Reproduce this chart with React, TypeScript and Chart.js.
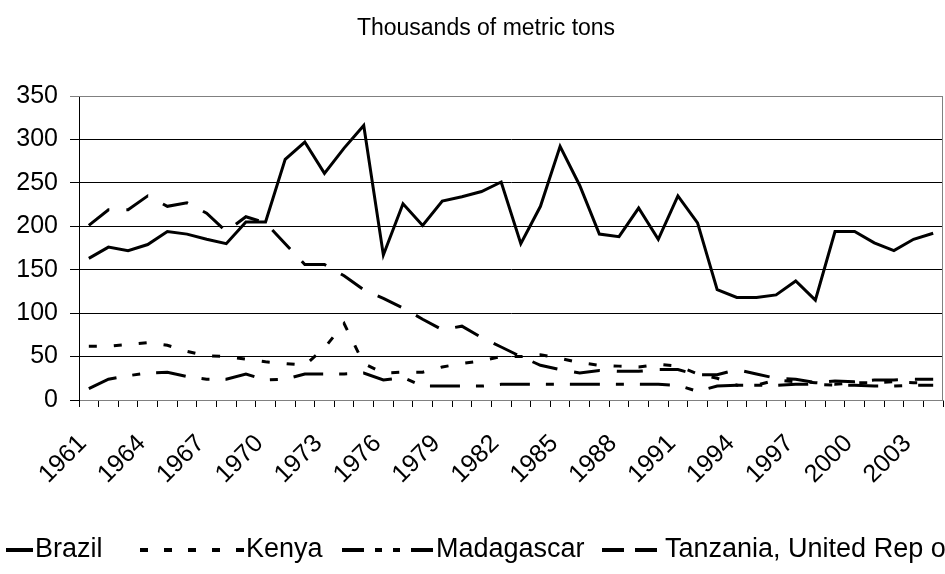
import React, { useEffect, useRef } from "react";
import { Chart, registerables } from "chart.js";

Chart.register(...registerables);

const years: string[] = [
  "1961","1962","1963","1964","1965","1966","1967","1968","1969","1970",
  "1971","1972","1973","1974","1975","1976","1977","1978","1979","1980",
  "1981","1982","1983","1984","1985","1986","1987","1988","1989","1990",
  "1991","1992","1993","1994","1995","1996","1997","1998","1999","2000",
  "2001","2002","2003","2004",
];

const brazil = [163,176,172,179,194,191,185,180,205,205,277,297,261,290,316,167,226,201,229,234,240,251,180,223,292,247,191,188,221,185,235,204,127,118,118,121,137,115,194,194,181,172,185,192];
const kenya = [62,62,64,66,63,56,51,50,47,44,42,40,60,88,42,31,32,32,38,42,45,50,50,52,48,43,40,39,38,41,39,30,25,17,17,23,21,20,18,20,20,21,20,20];
const madagascar = [13,24,28,31,32,27,24,24,30,23,24,30,30,30,31,23,26,16,16,16,16,18,18,18,18,18,18,18,18,18,17,10,16,17,17,17,18,18,17,17,16,16,17,17];
const tanzania = [201,219,219,235,223,227,215,194,211,204,180,156,156,143,127,117,106,93,81,85,72,61,50,40,35,31,34,33,33,35,35,29,29,35,30,25,24,20,22,21,23,23,24,24];

const titleText = "Thousands of metric tons";
const seriesNames = ["Brazil", "Kenya", "Madagascar", "Tanzania, United Rep of"];
const dashes: number[][] = [[], [8, 17], [30, 16, 8, 16], [26, 17]];
const legendDashes: number[][] = [[], [8, 16], [22, 11, 7, 11, 7, 11], [22, 11]];

const FONT = "'Liberation Sans', Arial, sans-serif";

export default function App() {
  const ref = useRef<HTMLCanvasElement | null>(null);

  useEffect(() => {
    const canvas = ref.current;
    if (!canvas) return;
    const seriesData = [brazil, kenya, madagascar, tanzania];

    const titlePlugin = {
      id: "customTitle",
      afterDraw(chart: any) {
        const ctx = chart.ctx;
        ctx.save();
        ctx.fillStyle = "#000";
        ctx.font = `23px ${FONT}`;
        ctx.textAlign = "center";
        ctx.textBaseline = "middle";
        ctx.fillText(titleText, 486, 29);
        ctx.restore();
      },
    };

    const legendPlugin = {
      id: "customLegend",
      afterDraw(chart: any) {
        const ctx = chart.ctx;
        ctx.save();
        ctx.font = `27px ${FONT}`;
        ctx.textBaseline = "middle";
        ctx.textAlign = "left";
        const y = 550;
        const sampleX = [6, 140, 342, 602];
        const sampleW = [27, 104, 92, 55];
        seriesNames.forEach((name, i) => {
          ctx.strokeStyle = "#000";
          ctx.lineWidth = 4;
          ctx.setLineDash(legendDashes[i]);
          ctx.beginPath();
          ctx.moveTo(sampleX[i], y);
          ctx.lineTo(sampleX[i] + sampleW[i], y);
          ctx.stroke();
          ctx.setLineDash([]);
          ctx.fillStyle = "#000";
          ctx.fillText(name, sampleX[i] + sampleW[i] + (i === 3 ? 8 : 2), y);
        });
        ctx.restore();
      },
    };

    const framePlugin = {
      id: "frame",
      beforeDatasetsDraw(chart: any) {
        const { ctx, chartArea } = chart;
        ctx.save();
        ctx.strokeStyle = "#808080";
        ctx.lineWidth = 1;
        ctx.beginPath();
        ctx.moveTo(chartArea.left, chartArea.top + 0.5);
        ctx.lineTo(chartArea.right - 0.5, chartArea.top + 0.5);
        ctx.lineTo(chartArea.right - 0.5, chartArea.bottom);
        ctx.stroke();
        ctx.restore();
      },
    };

    const chart = new Chart(canvas, {
      type: "line",
      data: {
        labels: years,
        datasets: seriesNames.map((name, i) => ({
          label: name,
          data: seriesData[i],
          borderColor: "#000",
          backgroundColor: "#000",
          borderWidth: 3,
          borderDash: dashes[i],
          pointRadius: 0,
          tension: 0,
          fill: false,
        })),
      },
      options: {
        responsive: false,
        animation: false,
        devicePixelRatio: 1,
        layout: { padding: { left: 0, right: 2, top: 96, bottom: 0 } },
        plugins: {
          legend: { display: false },
          title: { display: false },
          tooltip: { enabled: false },
        },
        scales: {
          x: {
            offset: true,
            grid: {
              offset: true,
              drawOnChartArea: false,
              drawTicks: true,
              tickLength: 7,
              color: "#000",
            },
            border: { display: true, color: "#808080", width: 1 },
            ticks: {
              autoSkip: false,
              maxRotation: 45,
              minRotation: 45,
              color: "#000",
              font: { family: FONT, size: 25 },
              padding: 22,
              labelOffset: -6,
              callback: (_v: any, i: number) => (i % 3 === 0 ? years[i] : ""),
            },
            afterFit: (s: any) => {
              s.height = 174;
              s.paddingLeft = 0;
              s.paddingRight = 0;
            },
          },
          y: {
            min: 0,
            max: 350,
            ticks: {
              stepSize: 50,
              color: "#000",
              font: { family: FONT, size: 25 },
              padding: 12,
            },
            grid: {
              color: (c: any) => (c.tick && c.tick.value === 350 ? "#808080" : "#000"),
              tickLength: 9,
              lineWidth: 1,
            },
            border: { display: true, color: "#000", width: 1 },
            afterFit: (s: any) => {
              s.width = 79;
              s.paddingTop = 0;
              s.paddingBottom = 0;
            },
          },
        },
      },
      plugins: [titlePlugin, legendPlugin, framePlugin],
    });

    return () => chart.destroy();
  }, []);

  return (
    <div style={{ position: "fixed", left: 0, top: 0, width: 945, height: 574, background: "#fff" }}>
      <canvas ref={ref} width={945} height={574} style={{ display: "block" }} />
    </div>
  );
}
